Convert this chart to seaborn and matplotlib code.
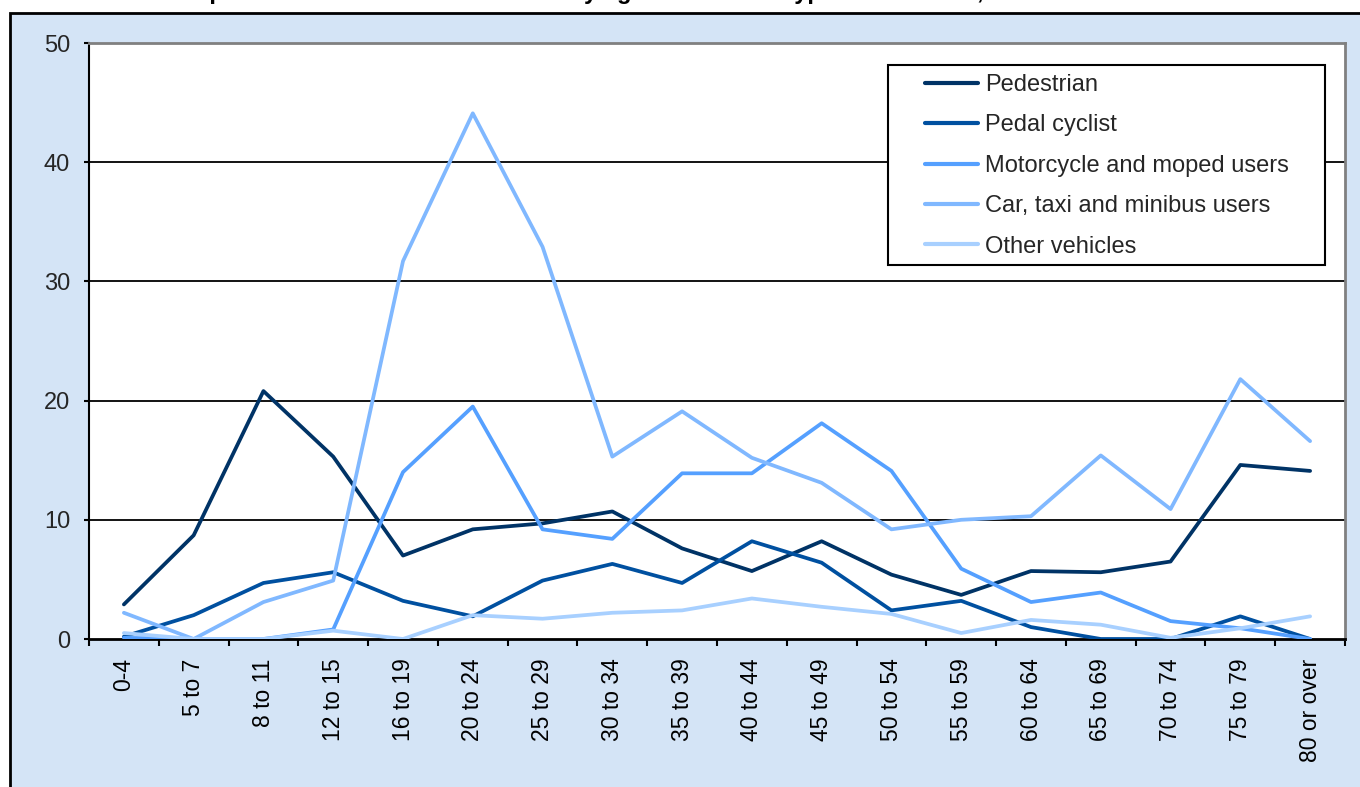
import matplotlib
matplotlib.use("Agg")
import matplotlib.pyplot as plt
import matplotlib.patches as mpatches
import seaborn as sns
import pandas as pd

# ---- data ----
age_groups = ["0-4", "5 to 7", "8 to 11", "12 to 15", "16 to 19", "20 to 24",
              "25 to 29", "30 to 34", "35 to 39", "40 to 44", "45 to 49",
              "50 to 54", "55 to 59", "60 to 64", "65 to 69", "70 to 74",
              "75 to 79", "80 or over"]
pedestrian = [2.9, 8.7, 20.8, 15.3, 7.0, 9.2, 9.7, 10.7, 7.6, 5.7, 8.2,
              5.4, 3.7, 5.7, 5.6, 6.5, 14.6, 14.1]
pedal_cyclist = [0.2, 2.0, 4.7, 5.6, 3.2, 1.9, 4.9, 6.3, 4.7, 8.2, 6.4,
                 2.4, 3.2, 1.0, 0.0, 0.0, 1.9, 0.0]
motorcycle = [0.1, 0.0, 0.0, 0.8, 14.0, 19.5, 9.2, 8.4, 13.9, 13.9, 18.1,
              14.1, 5.9, 3.1, 3.9, 1.5, 0.9, 0.0]
car_taxi = [2.2, 0.0, 3.1, 4.9, 31.7, 44.1, 32.9, 15.3, 19.1, 15.2, 13.1,
            9.2, 10.0, 10.3, 15.4, 10.9, 21.8, 16.6]
other_vehicles = [0.5, 0.0, 0.0, 0.7, 0.0, 2.0, 1.7, 2.2, 2.4, 3.4, 2.7,
                  2.1, 0.5, 1.6, 1.2, 0.1, 0.9, 1.9]
series_names = ["Pedestrian", "Pedal cyclist", "Motorcycle and moped users",
                "Car, taxi and minibus users", "Other vehicles"]
y_ticks = [0, 10, 20, 30, 40, 50]
title_text = "Proportion of road accident deaths by age and vehicle type of road user, 2008"

colors = ["#003366", "#0050A0", "#55A0FF", "#80B8FF", "#A8D0FF"]

rows = []
for name, vals in zip(series_names, [pedestrian, pedal_cyclist, motorcycle,
                                      car_taxi, other_vehicles]):
    for a, v in zip(age_groups, vals):
        rows.append({"age": a, "value": v, "series": name})
df = pd.DataFrame(rows)

sns.set_theme(style="white")
plt.rcParams["font.family"] = ["Liberation Sans", "DejaVu Sans"]

W, H = 1360, 787
fig = plt.figure(figsize=(W / 100, H / 100), dpi=100)
fig.patch.set_facecolor("white")

# outer chart panel
panel = mpatches.Rectangle((10 / W, -0.05), 1.2, 1 - 13 / H + 0.05,
                           transform=fig.transFigure, facecolor="#D4E4F6",
                           edgecolor="black", linewidth=2, zorder=-10)
fig.patches.append(panel)

# title (cut off by the top edge, as in the original)
fig.text(170 / W, 1 + 1.5 / H, title_text, fontsize=17, fontweight="bold",
         ha="left", va="baseline", color="black")

ax = fig.add_axes([89 / W, 1 - 639 / H, (1345 - 89) / W, (639 - 43) / H])
ax.set_zorder(1)
ax.set_facecolor("white")

sns.lineplot(data=df, x="age", y="value", hue="series", hue_order=series_names,
             palette=colors, sort=False, linewidth=2.7, ax=ax, legend=True,
             zorder=3)

ax.set_xlim(-0.5, len(age_groups) - 0.5)
ax.set_ylim(0, 50)
ax.set_yticks(y_ticks)
ax.set_yticklabels([str(t) for t in y_ticks])
ax.set_xticks(range(len(age_groups)))
ax.set_xticklabels(age_groups, rotation=90, va="top", ha="center")
ax.set_xticks([i - 0.5 for i in range(len(age_groups) + 1)], minor=True)
ax.tick_params(axis="x", which="major", length=0, pad=14, labelsize=16.5,
               colors="black")
ax.tick_params(axis="x", which="minor", length=5, width=1.5, color="black",
               direction="out", bottom=True)
ax.tick_params(axis="y", length=3.5, width=1.5, color="black", direction="out",
               pad=10, labelsize=17, left=True)
ax.set_xlabel("")
ax.set_ylabel("")

for y in y_ticks[1:-1]:
    ax.axhline(y, color="black", linewidth=1.3, zorder=1)

ax.spines["left"].set_color("black")
ax.spines["left"].set_linewidth(1.5)
ax.spines["bottom"].set_color("black")
ax.spines["bottom"].set_linewidth(2)
ax.spines["top"].set_color("#808080")
ax.spines["top"].set_linewidth(2)
ax.spines["right"].set_color("#808080")
ax.spines["right"].set_linewidth(2)

# legend
handles, labels = ax.get_legend_handles_labels()
ax.get_legend().remove()
for h in handles:
    h.set_linewidth(3)
ax_w, ax_h = 1256, 596
frame = mpatches.Rectangle(((888 - 89) / ax_w, (639 - 265) / ax_h),
                           (1325 - 888) / ax_w, (265 - 65) / ax_h,
                           transform=ax.transAxes, facecolor="white",
                           edgecolor="black", linewidth=1.5, zorder=5)
ax.add_patch(frame)
leg = ax.legend(handles, labels, loc="upper left",
                bbox_to_anchor=((925 - 89) / ax_w, (639 - 74) / ax_h),
                frameon=False, borderpad=0, borderaxespad=0,
                handlelength=2.25, handletextpad=0.3, labelspacing=0.78,
                fontsize=17)
leg.set_zorder(6)

fig.savefig("out.png", dpi=100, facecolor="white")
